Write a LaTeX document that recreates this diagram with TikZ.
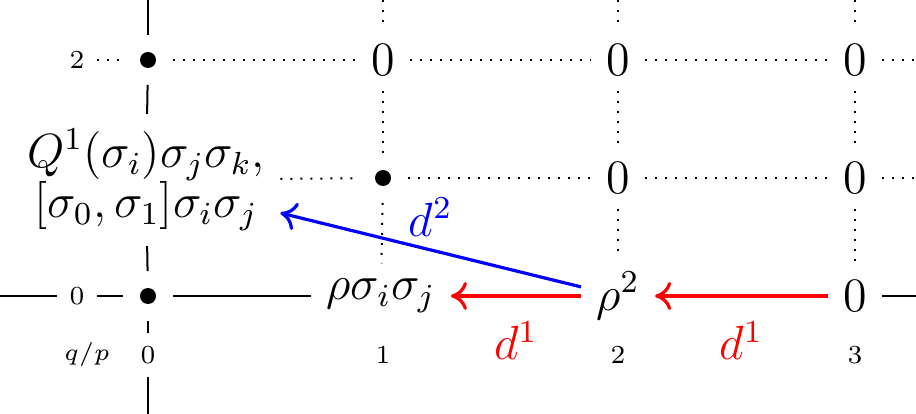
\documentclass[tikz,border=0pt]{standalone}
\usetikzlibrary{arrows.meta}
\begin{document}
\begin{tikzpicture}[x=0.25pt,y=-0.25pt,
  every node/.style={font=\fontsize{11.5}{12.5}\selectfont, inner sep=3.67pt},
  lab/.style={font=\fontsize{6.5}{7.5}\selectfont, inner sep=3pt},
  dot/.style={circle, minimum size=12pt, inner sep=0pt,
    path picture={\fill (path picture bounding box.center) circle (2pt);}},
  axisline/.style={line width=0.5pt},
  gridline/.style={dotted, line width=0.5pt},
  diff/.style={line width=0.8pt, -{To[length=4pt,width=7pt]}},
]
\useasboundingbox (0,0) rectangle (916,414);
% coordinates at edges
\coordinate (t0) at (148,0);
\coordinate (t1) at (383,0);
\coordinate (t2) at (618,0);
\coordinate (t3) at (855,0);
\coordinate (bot0) at (148,414);
\coordinate (L0) at (0,296);
\coordinate (R0) at (916,296);
\coordinate (R1) at (916,178);
\coordinate (R2) at (916,60);
% labels
\node[lab] (l2) at (77,60) {2};
\node[lab] (l0) at (77,296) {0};
\node[lab] (lqp) at (87,355) {$q/p$};
\node[lab] (b0) at (148,355) {0};
\node[lab] (b1) at (383,355) {1};
\node[lab] (b2) at (618,355) {2};
\node[lab] (b3) at (855,355) {3};
% row 2
\node[dot] (n02) at (148,60) {};
\node (n12) at (383,60) {$0$};
\node (n22) at (618,60) {$0$};
\node (n32) at (855,60) {$0$};
% row 1
\node[align=center] (n01) at (146,180) {$Q^1(\sigma_i)\sigma_j\sigma_k,$\\$[\sigma_0,\sigma_1]\sigma_i\sigma_j$};
\node[dot] (n11) at (383,178) {};
\node (n21) at (618,178) {$0$};
\node (n31) at (855,178) {$0$};
% row 0
\node[dot] (n00) at (148,296) {};
\node (n10) at (381,296) {$\rho\sigma_i\sigma_j$};
\node (n20) at (618,296) {$\rho^2$};
\node (n30) at (855,296) {$0$};
% axes
\draw[axisline] (t0) -- (n02);
\draw[axisline] (n02) -- (n01);
\draw[axisline] (n01) -- (n00);
\draw[axisline] (n00) -- (b0);
\draw[axisline] (b0) -- (bot0);
\draw[axisline] (L0) -- (l0);
\draw[axisline] (l0) -- (n00);
\draw[axisline] (n00) -- (n10);
\draw[axisline] (n30) -- (R0);
% dotted grid
\draw[gridline] (l2) -- (n02);
\draw[gridline] (n02) -- (n12);
\draw[gridline] (n12) -- (n22);
\draw[gridline] (n22) -- (n32);
\draw[gridline] (n32) -- (R2);
\draw[gridline] (n01) -- (n11);
\draw[gridline] (n11) -- (n21);
\draw[gridline] (n21) -- (n31);
\draw[gridline] (n31) -- (R1);
\draw[gridline] (t1) -- (n12);
\draw[gridline] (n12) -- (n11);
\draw[gridline] (n11) -- (n10);
\draw[gridline] (t2) -- (n22);
\draw[gridline] (n22) -- (n21);
\draw[gridline] (n21) -- (n20);
\draw[gridline] (t3) -- (n32);
\draw[gridline] (n32) -- (n31);
\draw[gridline] (n31) -- (n30);
% differentials
\draw[diff, red] (n30) -- node[below, inner sep=6pt] {$d^1$} (n20);
\draw[diff, red] (n20) -- node[below, inner sep=6pt] {$d^1$} (n10);
\draw[diff, blue] (n20) -- node[above, inner sep=3pt] {$d^2$} (n01);
\end{tikzpicture}
\end{document}
